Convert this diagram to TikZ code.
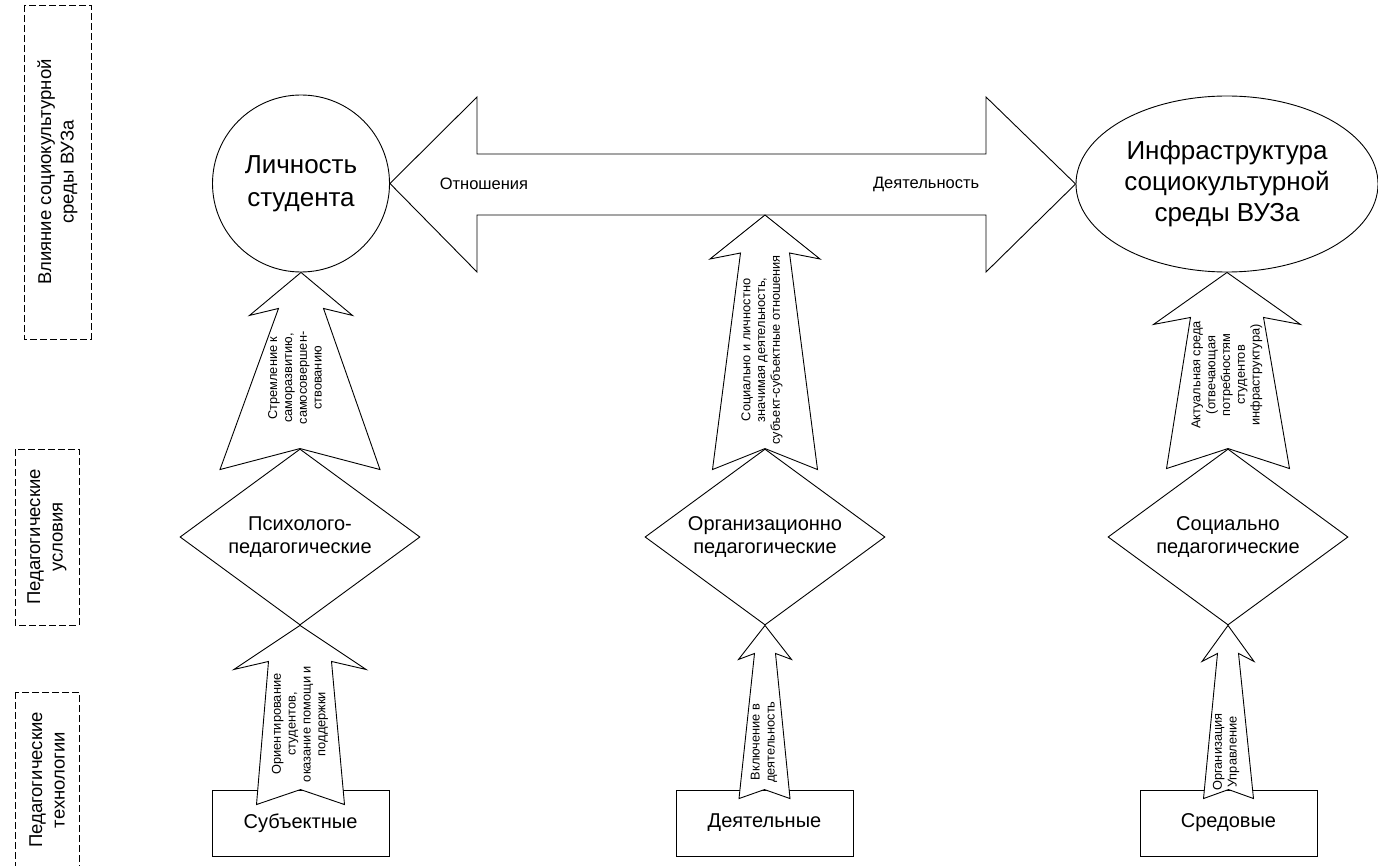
\documentclass[tikz,border=0pt]{standalone}
\usepackage{fontspec}
\setmainfont{Liberation Sans}
\usetikzlibrary{shapes.geometric,calc}

\tikzset{
	blockarr/.style={draw,fill=white,line join=miter},
	rombus/.style={draw,diamond,aspect=1.36,minimum width=240pt,minimum height=176pt,inner sep=0pt,align=center,font=\fontsize{20}{23}\selectfont},
	techbox/.style={draw,fill=white,minimum width=177pt,minimum height=66pt,inner sep=0pt,font=\fontsize{20}{23}\selectfont},
	levelframe/.style={draw,dash pattern=on 7pt off 3pt},
	leveltext/.style={rotate=90,align=center,font=\fontsize{18.5}{22.5}\selectfont},
	arrtext/.style={rotate=90,align=center,inner sep=0pt,font=\fontsize{12.8}{14.8}\selectfont}
}

% block arrow pointing up: tip, notch, head half/dy, shaft top half/dy, shaft bottom half/dy
\newcommand{\blockup}[8]{%
	\draw[blockarr] (#1) -- ($(#1)+(#3,#4)$) -- ($(#1)+(#5,#6)$) -- ($(#2)+(#7,#8)$) -- (#2)
		-- ($(#2)+(-#7,#8)$) -- ($(#1)+(-#5,#6)$) -- ($(#1)+(-#3,#4)$) -- cycle;}

\begin{document}
\begin{tikzpicture}[x=1pt,y=-1pt,line width=0.9pt]
	\useasboundingbox (0,0) rectangle (1378,866);

	% levels
	\draw[levelframe] (24,5) rectangle (91,339);
	\draw[levelframe] (15,449) rectangle (79,625);
	\draw[levelframe] (15,692) rectangle (79,880);
	\node[leveltext] (vliyanie) at (57.5,172) {Влияние социокультурной\\среды ВУЗа};
	\node[leveltext] (usloviya) at (47,537) {Педагогические\\условия};
	\node[leveltext] (tehnol) at (47,780) {Педагогические\\технологии};

	% technologies
	\node[techbox] (subj) at (300.5,823) {Субъектные};
	\node[techbox] (deyat) at (764.5,823) {Деятельные};
	\node[techbox] (sred) at (1228.5,823) {Средовые};

	% conditions
	\node[rombus] (psy) at (300,537) {Психолого-\\педагогические};
	\node[rombus] (org) at (765,537) {Организационно\\педагогические};
	\node[rombus] (soc) at (1228,537) {Социально\\педагогические};

	% top
	\node[draw,circle,minimum size=177pt,inner sep=0pt,align=center,font=\fontsize{26}{33}\selectfont] (lich) at (301,183.5) {Личность\\студента};
	\node[draw,ellipse,minimum width=302pt,minimum height=176pt,inner sep=0pt,align=center,font=\fontsize{26}{31}\selectfont] (infra) at (1227,184) {Инфраструктура\\социокультурной\\среды ВУЗа};

	% double arrow
	\draw[blockarr] (lich.east) -- (477,97) -- (477,154) -- (986,154) -- (986,97) -- (infra.west)
		-- (986,272) -- (986,215) -- (477,215) -- (477,272) -- cycle;
	\coordinate (dmid) at (765,215);
	\node[anchor=west,font=\fontsize{16.5}{19}\selectfont] (otnosh) at (436,184) {Отношения};
	\node[anchor=east,font=\fontsize{16.5}{19}\selectfont] (deyatn) at (983,184) {Деятельность};

	% up arrows
	\blockup{lich.south}{psy.north}{51.5}{43}{22.5}{36}{80}{21}
	\blockup{dmid}{org.north}{55}{44}{24.5}{38}{52.5}{21}
	\blockup{infra.south}{soc.north}{73.5}{52}{36.5}{45}{61.5}{20}
	\blockup{psy.south}{subj.north}{66}{44}{31.5}{36}{44}{15}
	\blockup{org.south}{deyat.north}{26.5}{34}{10.5}{28}{25.5}{9}
	\blockup{soc.south}{sred.north}{26}{36}{10.5}{28}{25}{9}

	\node[arrtext] (strem) at (295,378) {Стремление к\\саморазвитию,\\самосовершен-\\ствованию};
	\node[arrtext] (socl) at (762,350) {Социально и личностно\\значимая деятельность,\\субъект-субъектные отношения};
	\node[arrtext] (aktual) at (1227,375) {Актуальная среда\\(отвечающая\\потребностям\\студентов\\инфраструктура)};
	\node[arrtext] (orient) at (300,724) {Ориентирование\\студентов,\\оказание помощи и\\поддержки};
	\node[arrtext] (vkl) at (764,742) {Включение в\\деятельность};
	\node[arrtext] (orgupr) at (1226,752) {Организация\\Управление};
\end{tikzpicture}
\end{document}
